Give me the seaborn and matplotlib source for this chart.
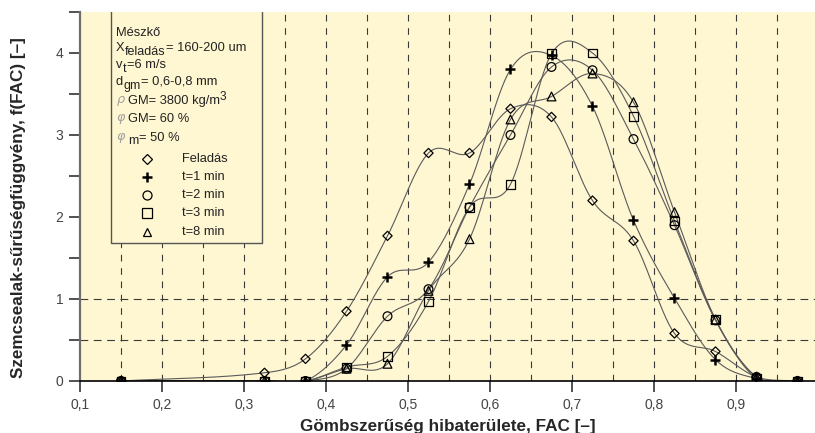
import numpy as np
import pandas as pd
import matplotlib
matplotlib.use("Agg")
import matplotlib.pyplot as plt
from matplotlib.lines import Line2D
from matplotlib.patches import Rectangle
import seaborn as sns

# Class midpoints of the shape factor (FAC)
fac = [0.15, 0.325, 0.375, 0.425, 0.475, 0.525, 0.575, 0.625, 0.675,
       0.725, 0.775, 0.825, 0.875, 0.925, 0.975]

# Shape density function values for each grinding time
feladas = [0.0, 0.10, 0.27, 0.85, 1.77, 2.78, 2.78, 3.32, 3.22, 2.20, 1.71, 0.58, 0.36, 0.05, 0.0]
t1 = [0.0, 0.0, 0.0, 0.44, 1.27, 1.45, 2.40, 3.80, 3.97, 3.35, 1.96, 1.01, 0.26, 0.03, 0.0]
t2 = [0.0, 0.0, 0.0, 0.15, 0.79, 1.12, 2.12, 3.00, 3.83, 3.79, 2.95, 1.90, 0.74, 0.05, 0.0]
t3 = [0.0, 0.0, 0.0, 0.17, 0.30, 0.97, 2.12, 2.40, 3.99, 4.00, 3.23, 1.95, 0.75, 0.03, 0.0]
t8 = [0.0, 0.0, 0.0, 0.15, 0.21, 1.10, 1.73, 3.19, 3.47, 3.75, 3.40, 2.06, 0.75, 0.05, 0.0]

series_names = ["Feladás", "t=1 min", "t=2 min", "t=3 min", "t=8 min"]
series_values = [feladas, t1, t2, t3, t8]
markers = ["D", "P", "o", "s", "^"]

x_ticks = [0.1, 0.2, 0.3, 0.4, 0.5, 0.6, 0.7, 0.8, 0.9]
x_tick_labels = ["0,1", "0,2", "0,3", "0,4", "0,5", "0,6", "0,7", "0,8", "0,9"]
y_ticks = [0, 1, 2, 3, 4]

# Parameter block: rows of (text, style) pieces; style n=normal, s=subscript,
# p=superscript, g=greek symbol
info_rows = [
    [("Mészkő", "n")],
    [("X", "n"), ("feladás", "s"), ("= 160-200 um", "n")],
    [("v", "n"), ("t", "s"), ("=6 m/s", "n")],
    [("d", "n"), ("gm", "s"), ("= 0,6-0,8 mm", "n")],
    [(r"$\rho$", "g"), ("GM= 3800 kg/m", "n"), ("3", "p")],
    [(r"$\varphi$", "g"), ("GM= 60 %", "n")],
    [(r"$\varphi$", "g"), ("m", "s"), ("= 50 %", "n")],
]
info_rows_y = [33, 48, 65, 82, 101, 119, 138]

BG = "#fff7d2"

sns.set_theme(style="white")
plt.rcParams["font.family"] = ["Liberation Sans", "DejaVu Sans"]


def smooth(x, y, n=30):
    """Cardinal (Catmull-Rom style) Hermite curve through the points."""
    x = np.asarray(x, float)
    y = np.asarray(y, float)
    m = np.zeros_like(y)
    m[1:-1] = (y[2:] - y[:-2]) / (x[2:] - x[:-2])
    m[0] = (y[1] - y[0]) / (x[1] - x[0])
    m[-1] = (y[-1] - y[-2]) / (x[-1] - x[-2])
    xs, ys = [], []
    for i in range(len(x) - 1):
        h = x[i + 1] - x[i]
        t = np.linspace(0, 1, n, endpoint=False)
        h00 = 2 * t**3 - 3 * t**2 + 1
        h10 = t**3 - 2 * t**2 + t
        h01 = -2 * t**3 + 3 * t**2
        h11 = t**3 - t**2
        xs.append(x[i] + t * h)
        ys.append(h00 * y[i] + h10 * h * m[i] + h01 * y[i + 1] + h11 * h * m[i + 1])
    xs.append([x[-1]])
    ys.append([y[-1]])
    return np.concatenate(xs), np.concatenate(ys)


fig = plt.figure(figsize=(8.15, 4.33), dpi=100)
ax = fig.add_axes([80 / 815, 52 / 433, 735 / 815, 369 / 433])
ax.set_facecolor(BG)

ax.set_xlim(0.1, 0.1 + 735 / 820)
ax.set_ylim(0, 4.5)

# dashed reference grid
for xv in np.arange(0.15, 0.96, 0.05):
    ax.axvline(xv, color="#3a3a3a", lw=0.8, ls=(0, (6, 6)), zorder=1)
for yv in (0.5, 1.0):
    ax.axhline(yv, color="#3a3a3a", lw=0.8, ls=(0, (7, 5)), zorder=1)

# smoothed curves and measured points
for name, vals, mk in zip(series_names, series_values, markers):
    xs, ys = smooth(fac, vals)
    sns.lineplot(x=xs, y=ys, ax=ax, color="#5a5a5a", lw=0.8, sort=False,
                 estimator=None, zorder=2)
    df = pd.DataFrame({"FAC": fac, "f": vals})
    if mk == "P":
        sns.scatterplot(data=df, x="FAC", y="f", ax=ax, marker="+", s=55,
                        color="black", linewidth=1.8, zorder=4)
    else:
        size = 22 if mk == "D" else 40
        sns.scatterplot(data=df, x="FAC", y="f", ax=ax, marker=mk, s=size,
                        facecolor="none", edgecolor="black", linewidth=0.9,
                        zorder=3)

# axes styling
for side in ("top", "right"):
    ax.spines[side].set_visible(False)
ax.spines["left"].set_color("#6e6e6e")
ax.spines["left"].set_linewidth(1.6)
ax.spines["bottom"].set_color("black")
ax.spines["bottom"].set_linewidth(1.2)

ax.set_xticks(x_ticks)
ax.set_xticklabels(x_tick_labels)
ax.set_yticks(y_ticks)
ax.set_yticks(np.arange(0.5, 4.6, 1.0), minor=True)
ax.tick_params(axis="x", direction="out", length=8, width=1.2, color="#333333",
               labelsize=10, labelcolor="#444444", pad=4, bottom=True)
ax.tick_params(axis="y", which="both", direction="out", length=8, width=1.2,
               color="#333333", labelsize=10, labelcolor="#444444", pad=4,
               left=True)

ax.set_xlabel("Gömbszerűség hibaterülete, FAC [–]", fontsize=12.3,
              fontweight="bold", va="top")
ax.set_ylabel("Szemcsealak-sűrűségfüggvény, f(FAC) [–]", fontsize=12.3,
              fontweight="bold", va="center")
ax.xaxis.set_label_coords(0.5, -0.102)
ax.yaxis.set_label_coords(-0.084, 0.47)


# info / legend box
def px_y(py):
    return (381 - py) / 369


def px_x(px):
    return (px - 80) / 735


bx0, bx1, by0 = px_x(111), px_x(262), px_y(243)
ax.add_patch(Rectangle((bx0, by0), bx1 - bx0, 1.0 - by0, transform=ax.transAxes,
                       facecolor=BG, edgecolor="none", zorder=5))
ax.add_line(Line2D([bx0, bx0, bx1, bx1], [1.0, by0, by0, 1.0],
                   transform=ax.transAxes, color="#555555", lw=1.0, zorder=5.5))

renderer = fig.canvas.get_renderer()
base_fs = 9.3
styles = {
    "n": dict(fontsize=base_fs, dy=0, color="#222222"),
    "s": dict(fontsize=9.0, dy=-3.5, color="#222222"),
    "p": dict(fontsize=8.6, dy=4, color="#222222"),
    "g": dict(fontsize=base_fs, dy=0, color="#a0a0a0"),
}
for py, pieces in zip(info_rows_y, info_rows):
    x_disp = ax.transAxes.transform((px_x(116), 0))[0]
    y_disp = ax.transAxes.transform((0, px_y(py)))[1]
    for text, st in pieces:
        s = styles[st]
        xa, ya = ax.transAxes.inverted().transform((x_disp, y_disp + s["dy"]))
        t = ax.text(xa, ya, text, transform=ax.transAxes, fontsize=s["fontsize"],
                    va="center", ha="left", color=s["color"], zorder=6)
        ext = t.get_window_extent(renderer=renderer)
        x_disp = ext.x1 + (1.5 if st == "g" else 0.5)

for py, name, mk in zip([159, 177, 195, 213, 232], series_names, markers):
    if mk == "P":
        ax.plot([px_x(147)], [px_y(py)], transform=ax.transAxes, marker="+",
                ms=7, mew=1.8, color="black", ls="none", zorder=6,
                clip_on=False)
    elif mk == "^":
        ax.plot([px_x(147)], [px_y(py)], transform=ax.transAxes, marker="^",
                ms=6, mew=0.9, mfc="none", mec="black", ls="none", zorder=6,
                clip_on=False)
    else:
        ax.plot([px_x(147)], [px_y(py)], transform=ax.transAxes, marker=mk,
                ms=5 if mk == "D" else 6.5, mew=0.9, mfc="none", mec="black",
                ls="none", zorder=6, clip_on=False)
    ax.text(px_x(182), px_y(py), name, transform=ax.transAxes, fontsize=base_fs,
            va="center", ha="left", color="#222222", zorder=6)

fig.savefig("out.png", dpi=100, facecolor="white")
